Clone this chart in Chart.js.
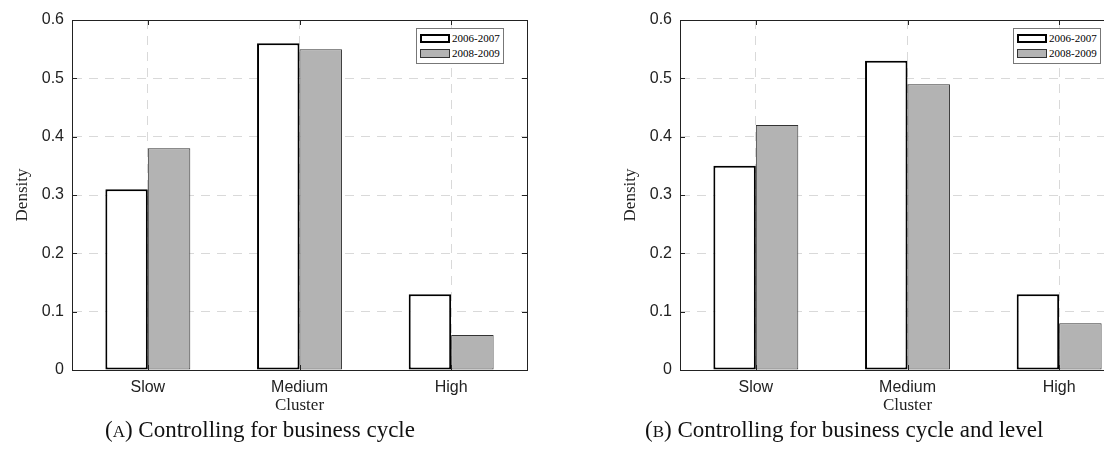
<!DOCTYPE html>
<html>
<head>
<meta charset="utf-8">
<script src="https://cdn.jsdelivr.net/npm/chart.js@4/dist/chart.umd.min.js"></script>
<style>
  body { margin:0; width:1104px; height:470px; overflow:hidden; background:#fff; position:relative; }
  .panel { position:absolute; top:0; width:552px; height:420px; }
  .legend { position:absolute; border:1px solid #777; background:#fff; font:11px "Liberation Serif", serif; padding:2px 3px; line-height:15px; }
  .legend span.sw { display:inline-block; width:30px; height:9px; vertical-align:-1px; margin-right:2px; box-sizing:border-box; }
  .cap { position:absolute; top:417px; font:23px "Liberation Serif", serif; color:#111; white-space:nowrap; }
  .sc { font-size:17px; }
</style>
</head>
<body>
<div class="panel" style="left:0"><canvas id="chartA" width="552" height="420"></canvas></div>
<div class="panel" style="left:608px"><canvas id="chartB" width="552" height="420"></canvas></div>
<div class="legend" style="left:416px;top:28px">
  <div><span class="sw" style="border:2px solid #000;background:#fff"></span>2006-2007</div>
  <div><span class="sw" style="border:1px solid #333;background:#b3b3b3"></span>2008-2009</div>
</div>
<div class="legend" style="left:1013px;top:28px">
  <div><span class="sw" style="border:2px solid #000;background:#fff"></span>2006-2007</div>
  <div><span class="sw" style="border:1px solid #333;background:#b3b3b3"></span>2008-2009</div>
</div>
<div class="cap" style="left:105px">(<span class="sc">A</span>) Controlling for business cycle</div>
<div class="cap" style="left:645px">(<span class="sc">B</span>) Controlling for business cycle and level</div>
<script>
const clusters = ['Slow', 'Medium', 'High'];
const periods = ['2006-2007', '2008-2009'];
const earlyA = [0.31, 0.56, 0.13];
const lateA = [0.38, 0.55, 0.06];
const earlyB = [0.35, 0.53, 0.13];
const lateB = [0.42, 0.49, 0.08];
const yTicks = [0, 0.1, 0.2, 0.3, 0.4, 0.5, 0.6];

// box around the plot area with inward ticks, like matlab
const boxPlugin = {
  id: 'box',
  afterDatasetsDraw(chart) {
    const a = chart.chartArea, c = chart.ctx;
    c.save();
    c.strokeStyle = '#222';
    c.lineWidth = 1;
    c.strokeRect(a.left + 0.5, a.top + 0.5, a.right - a.left, a.bottom - a.top);
    c.beginPath();
    chart.scales.x.ticks.forEach((t, i) => {
      const x = Math.round(chart.scales.x.getPixelForTick(i)) + 0.5;
      c.moveTo(x, a.top); c.lineTo(x, a.top + 5);
      c.moveTo(x, a.bottom); c.lineTo(x, a.bottom - 5);
    });
    yTicks.forEach(v => {
      const y = Math.round(chart.scales.y.getPixelForValue(v)) + 0.5;
      c.moveTo(a.left, y); c.lineTo(a.left + 5, y);
      c.moveTo(a.right, y); c.lineTo(a.right - 5, y);
    });
    c.stroke();
    c.restore();
  }
};

function makeChart(id, early, late) {
  return new Chart(document.getElementById(id), {
    type: 'bar',
    data: {
      labels: clusters,
      datasets: [
        { label: periods[0], data: early, backgroundColor: '#ffffff', borderColor: '#000', borderWidth: 2, borderSkipped: false },
        { label: periods[1], data: late, backgroundColor: '#b3b3b3', borderColor: '#333', borderWidth: 1, borderSkipped: false }
      ]
    },
    options: {
      responsive: false,
      animation: false,
      devicePixelRatio: 1,
      layout: { padding: { top: 20, right: 25, left: 0, bottom: 0 } },
      datasets: { bar: { categoryPercentage: 0.56, barPercentage: 1 } },
      plugins: { legend: { display: false }, tooltip: { enabled: false } },
      scales: {
        x: {
          grid: { offset: false, color: '#d9d9d9', drawTicks: false },
          border: { display: true, color: 'rgba(0,0,0,0)', dash: [9, 7] },
          ticks: { color: '#222', padding: 8, font: { family: 'Liberation Sans', size: 16 } },
          title: { display: true, text: 'Cluster', color: '#222', padding: { top: -2 }, font: { family: 'Liberation Serif', size: 17 } },
          afterFit(s) { s.height = 50; }
        },
        y: {
          min: 0, max: 0.6,
          afterBuildTicks(s) { s.ticks = yTicks.map(v => ({ value: v })); },
          grid: { color: '#d9d9d9', drawTicks: false },
          border: { display: true, color: 'rgba(0,0,0,0)', dash: [9, 7] },
          ticks: { color: '#222', padding: 8, font: { family: 'Liberation Sans', size: 16 },
                   callback: v => v === 0 ? '0' : v.toFixed(1) },
          title: { display: true, text: 'Density', color: '#222', padding: { top: 12, bottom: 0 }, font: { family: 'Liberation Serif', size: 17 } },
          afterFit(s) { s.width = 72; }
        }
      }
    },
    plugins: [boxPlugin]
  });
}

makeChart('chartA', earlyA, lateA);
makeChart('chartB', earlyB, lateB);
</script>
</body>
</html>
